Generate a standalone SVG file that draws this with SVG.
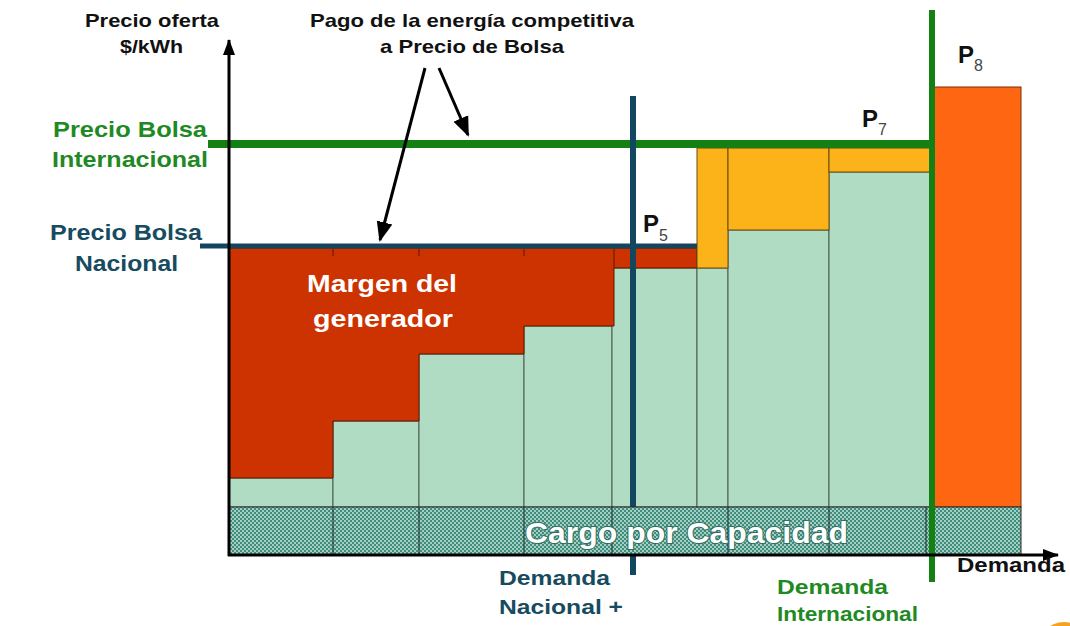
<svg xmlns="http://www.w3.org/2000/svg" width="1070" height="626" viewBox="0 0 1070 626">
<style>
  .lbl{font-family:"Liberation Sans",Arial,sans-serif;font-weight:bold}
  .blk{fill:#111}
  .grn{fill:#1f8a24}
  .blu{fill:#174b60}
  .wht{fill:#fff}
  .col{fill:#b0dcc3;stroke:#4a5a50;stroke-width:1}
  .org{fill:#fcb219;stroke:#6a4a10;stroke-width:1}
  .sub{font-family:"Liberation Sans",Arial,sans-serif;font-weight:normal;fill:#444}
</style>
<defs>
  <pattern id="dots" width="4" height="4" patternUnits="userSpaceOnUse">
    <rect width="4" height="4" fill="#3f8e7d"/>
    <circle cx="1" cy="1" r="0.9" fill="#d4ede3"/>
    <circle cx="3" cy="3" r="0.9" fill="#d4ede3"/>
  </pattern>
  <marker id="ahb" markerWidth="20" markerHeight="20" refX="18" refY="10" orient="auto" markerUnits="userSpaceOnUse" viewBox="0 0 20 20">
    <path d="M0,2 L20,10 L0,18 z" fill="#000"/>
  </marker>
  <marker id="aha" markerWidth="16" markerHeight="16" refX="15" refY="8" orient="auto" markerUnits="userSpaceOnUse" viewBox="0 0 16 16">
    <path d="M0,2 L16,8 L0,14 z" fill="#000"/>
  </marker>
</defs>

<rect width="1070" height="626" fill="#fff"/>

<g id="columns">
  <rect class="col" x="229" y="478" width="104" height="29"/>
  <rect class="col" x="333" y="421" width="86" height="86"/>
  <rect class="col" x="419" y="354" width="105" height="153"/>
  <rect class="col" x="524" y="326" width="88" height="181"/>
  <rect class="col" x="612" y="268" width="85" height="239"/>
  <rect class="col" x="697" y="268" width="31" height="239"/>
  <rect class="col" x="728" y="230" width="101" height="277"/>
  <rect class="col" x="829" y="172" width="101" height="335"/>
</g>

<g id="margen">
  <path d="M229,248 L697,248 L697,268 L614,268 L614,326 L524,326 L524,354 L419,354 L419,421 L333,421 L333,478 L229,478 Z" fill="#cc3300" stroke="#5a1a00" stroke-width="1"/>
  <path d="M333,249 V256 M419,249 V256 M524,249 V256 M614,249 V268" stroke="#5a1a00" stroke-width="1"/>
</g>

<g id="orange">
  <rect class="org" x="697" y="148" width="31" height="120"/>
  <rect class="org" x="728" y="148" width="101" height="82"/>
  <rect class="org" x="829" y="148" width="101" height="24"/>
</g>

<g id="p8">
  <rect x="934" y="87" width="87" height="420" fill="#ff6611" stroke="#7a3000" stroke-width="1"/>
</g>

<g id="connectors">
  <line x1="200" y1="246" x2="697" y2="246" stroke="#12475f" stroke-width="5"/>
  <line x1="208" y1="144" x2="935" y2="144" stroke="#148014" stroke-width="8"/>
  <line x1="633" y1="96" x2="633" y2="575" stroke="#12475f" stroke-width="6"/>
</g>

<g id="capacidad">
  <rect x="229" y="507" width="792" height="48" fill="url(#dots)" stroke="#222" stroke-width="1"/>
  <path d="M333,507 V555 M419,507 V555 M524,507 V555 M612,507 V555 M728,507 V555 M829,507 V555 M926,507 V555" stroke="#222" stroke-width="1"/>
  <text class="lbl wht" x="525" y="543" font-size="30" textLength="323" lengthAdjust="spacingAndGlyphs" stroke="#2f6f60" stroke-width="2" paint-order="stroke">Cargo por Capacidad</text>
</g>

<g id="axes">
  <line x1="633" y1="556" x2="633" y2="575" stroke="#12475f" stroke-width="6"/>
  <line x1="932" y1="10" x2="932" y2="582" stroke="#148014" stroke-width="6"/>
  <line x1="229" y1="556" x2="229" y2="40" stroke="#000" stroke-width="3" marker-end="url(#aha)"/>
  <line x1="228" y1="555" x2="1058" y2="555" stroke="#000" stroke-width="3" marker-end="url(#aha)"/>
  <line x1="425" y1="68" x2="380" y2="240" stroke="#000" stroke-width="3" marker-end="url(#ahb)"/>
  <line x1="439" y1="68" x2="468" y2="135" stroke="#000" stroke-width="3" marker-end="url(#ahb)"/>
</g>

<g id="labels">
  <text class="lbl blk" x="85" y="27" font-size="19" textLength="134" lengthAdjust="spacingAndGlyphs">Precio oferta</text>
  <text class="lbl blk" x="120" y="53" font-size="19" textLength="63" lengthAdjust="spacingAndGlyphs">$/kWh</text>
  <text class="lbl blk" x="310" y="27" font-size="19" textLength="324" lengthAdjust="spacingAndGlyphs">Pago de la energía competitiva</text>
  <text class="lbl blk" x="380" y="53" font-size="19" textLength="184" lengthAdjust="spacingAndGlyphs">a Precio de Bolsa</text>

  <text class="lbl grn" x="53" y="137" font-size="22" textLength="154" lengthAdjust="spacingAndGlyphs">Precio Bolsa</text>
  <text class="lbl grn" x="52" y="167" font-size="22" textLength="156" lengthAdjust="spacingAndGlyphs">Internacional</text>
  <text class="lbl blu" x="50" y="240" font-size="22" textLength="152" lengthAdjust="spacingAndGlyphs">Precio Bolsa</text>
  <text class="lbl blu" x="75" y="271" font-size="22" textLength="103" lengthAdjust="spacingAndGlyphs">Nacional</text>

  <text class="lbl wht" x="307" y="292" font-size="24" textLength="150" lengthAdjust="spacingAndGlyphs">Margen del</text>
  <text class="lbl wht" x="313" y="327" font-size="24" textLength="140" lengthAdjust="spacingAndGlyphs">generador</text>

  <text class="lbl blk" x="643" y="232" font-size="24">P</text>
  <text class="sub" x="659" y="241" font-size="16">5</text>
  <text class="lbl blk" x="862" y="127" font-size="24">P</text>
  <text class="sub" x="878" y="135" font-size="16">7</text>
  <text class="lbl blk" x="958" y="63" font-size="24">P</text>
  <text class="sub" x="974" y="71" font-size="16">8</text>

  <text class="lbl blu" x="499" y="585" font-size="20" textLength="111" lengthAdjust="spacingAndGlyphs">Demanda</text>
  <text class="lbl blu" x="499" y="614" font-size="20" textLength="124" lengthAdjust="spacingAndGlyphs">Nacional +</text>
  <text class="lbl grn" x="777" y="594" font-size="20" textLength="111" lengthAdjust="spacingAndGlyphs">Demanda</text>
  <text class="lbl grn" x="777" y="621" font-size="20" textLength="141" lengthAdjust="spacingAndGlyphs">Internacional</text>
  <text class="lbl blk" x="957" y="572" font-size="20" textLength="108" lengthAdjust="spacingAndGlyphs">Demanda</text>
</g>

<circle cx="1064" cy="648" r="26" fill="#f6a21e"/>
</svg>
